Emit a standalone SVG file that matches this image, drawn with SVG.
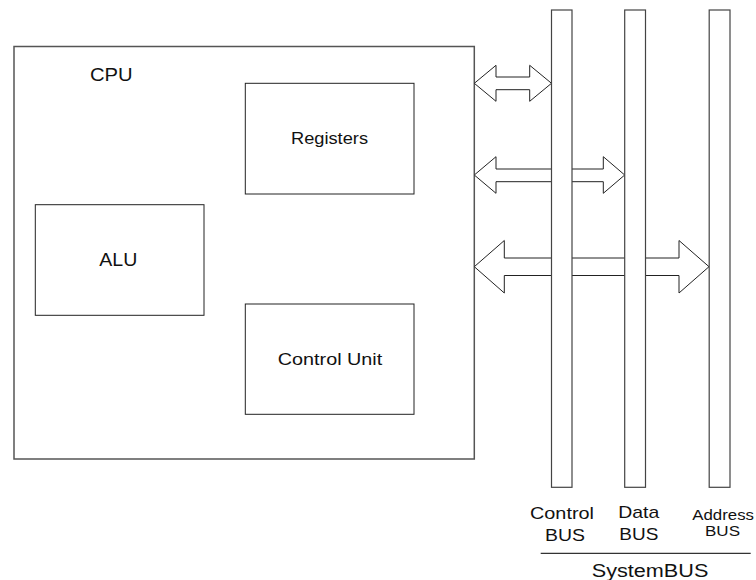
<svg xmlns="http://www.w3.org/2000/svg" width="756" height="580" viewBox="0 0 756 580">
<style>
.box{fill:#fff;stroke:#222;stroke-width:1}
.cpu{fill:#fff;stroke:#555;stroke-width:1.5}
.bus{fill:#fff;stroke:#444;stroke-width:1.2}
.arr{fill:#fff;stroke:#222;stroke-width:1}
.t{font-family:"Liberation Sans",Arial,sans-serif;fill:#111}
</style>
<rect width="756" height="580" fill="#fff"/>
<g id="cpu">
<rect class="cpu" x="14" y="46.5" width="460.3" height="412.5"/>
<text class="t" x="90" y="80.7" font-size="18" textLength="42.7" lengthAdjust="spacingAndGlyphs">CPU</text>
</g>
<g id="registers">
<rect class="box" x="245.3" y="83.3" width="168.7" height="110.7"/>
<text class="t" x="291" y="144" font-size="16" textLength="77" lengthAdjust="spacingAndGlyphs">Registers</text>
</g>
<g id="alu">
<rect class="box" x="35.3" y="204.7" width="168.7" height="110.6"/>
<text class="t" x="99.3" y="266" font-size="17.5" textLength="38" lengthAdjust="spacingAndGlyphs">ALU</text>
</g>
<g id="control-unit">
<rect class="box" x="245.3" y="304" width="168.7" height="110.3"/>
<text class="t" x="277.7" y="365.3" font-size="17" textLength="104.6" lengthAdjust="spacingAndGlyphs">Control Unit</text>
</g>
<g id="connectors">
<polygon class="arr" points="474.3,83.3 496,65.3 496,77 529.7,77 529.7,65.3 551.5,83.3 529.7,101.3 529.7,89.7 496,89.7 496,101.3"/>
<polygon class="arr" points="474.3,175 496,156.7 496,169 603.3,169 603.3,156.7 624.7,175 603.3,193.3 603.3,181.7 496,181.7 496,193.3"/>
<polygon class="arr" points="474.3,266.7 504.3,240.5 504.3,258 679,258 679,240.5 709,266.7 679,293 679,275.5 504.3,275.5 504.3,293"/>
</g>
<g id="control-bus">
<rect class="bus" x="551.5" y="10" width="20.5" height="477.3"/>
<text class="t" x="530" y="519" font-size="17" textLength="64" lengthAdjust="spacingAndGlyphs">Control</text>
<text class="t" x="545" y="540.7" font-size="17" textLength="40" lengthAdjust="spacingAndGlyphs">BUS</text>
</g>
<g id="data-bus">
<rect class="bus" x="624.7" y="10" width="20.8" height="477.3"/>
<text class="t" x="618.3" y="518" font-size="17" textLength="41" lengthAdjust="spacingAndGlyphs">Data</text>
<text class="t" x="619.3" y="540" font-size="17" textLength="39" lengthAdjust="spacingAndGlyphs">BUS</text>
</g>
<g id="address-bus">
<rect class="bus" x="709.2" y="10" width="20.8" height="477.3"/>
<text class="t" x="692.3" y="520" font-size="15" textLength="61.7" lengthAdjust="spacingAndGlyphs">Address</text>
<text class="t" x="705" y="536" font-size="15" textLength="35" lengthAdjust="spacingAndGlyphs">BUS</text>
</g>
<g id="system-bus">
<line x1="540.7" y1="553.3" x2="750.7" y2="553.3" stroke="#333" stroke-width="1.2"/>
<text class="t" x="591.7" y="576.7" font-size="17.5" textLength="116.7" lengthAdjust="spacingAndGlyphs">SystemBUS</text>
</g>
</svg>
